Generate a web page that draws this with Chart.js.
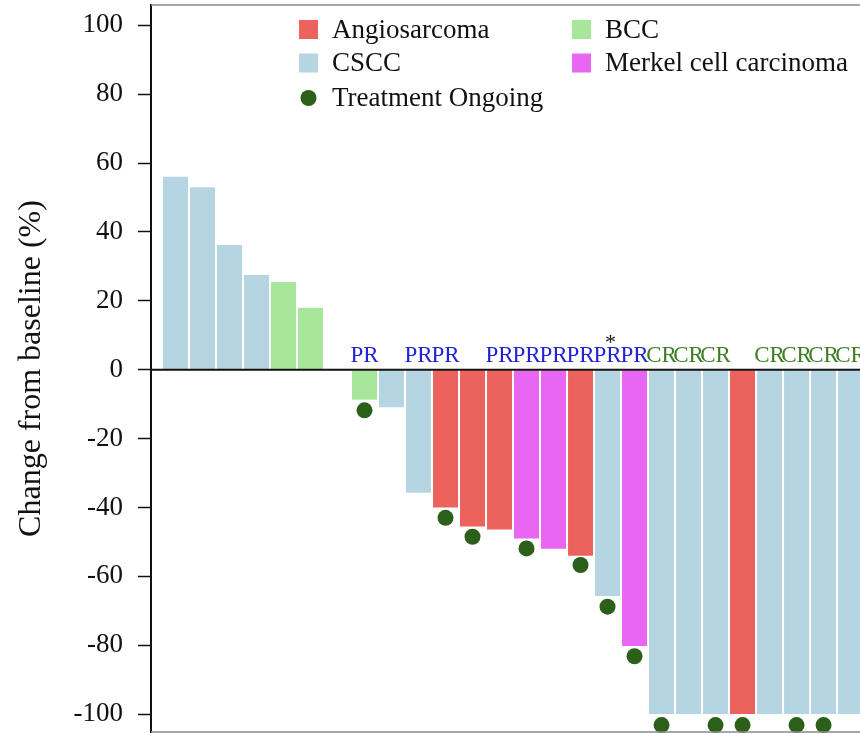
<!DOCTYPE html>
<html>
<head>
<meta charset="utf-8">
<script src="https://cdn.jsdelivr.net/npm/chart.js@4"></script>
<style>
  html, body { margin: 0; padding: 0; background: #fff; overflow: hidden; }
  #wrap { width: 860px; height: 734px; position: relative; }
</style>
</head>
<body>
<div id="wrap"><canvas id="waterfall"></canvas></div>
<script>
// best change from baseline per patient, left to right
const changePct = [56, 53, 36.2, 27.5, 25.5, 18, 0, -8.7, -10.9, -35.7, -40, -45.5, -46.4, -49, -52, -54,
  -65.7, -80.2, -100, -100, -100, -100, -100, -100, -100, -100];
const tumourType = ['CSCC', 'CSCC', 'CSCC', 'CSCC', 'BCC', 'BCC', 'CSCC', 'BCC', 'CSCC', 'CSCC',
  'Angiosarcoma', 'Angiosarcoma', 'Angiosarcoma', 'Merkel', 'Merkel', 'Angiosarcoma', 'CSCC', 'Merkel',
  'CSCC', 'CSCC', 'CSCC', 'Angiosarcoma', 'CSCC', 'CSCC', 'CSCC', 'CSCC'];
// treatment ongoing markers (null = none)
const ongoingDot = [null, null, null, null, null, null, null, -11.8, null, null, -43, -48.5, null, -51.9, null, -56.7,
  -68.8, -83.2, -103.2, null, -103.2, -103.2, null, -103.2, -103.2, null];
const response = ['', '', '', '', '', '', '', 'PR', '', 'PR', 'PR', '', 'PR', 'PR', 'PR', 'PR',
  'PR', 'PR', 'CR', 'CR', 'CR', '', 'CR', 'CR', 'CR', 'CR'];
const starred = [16];
const yTicks = [100, 80, 60, 40, 20, 0, -20, -40, -60, -80, -100];

const typeColour = {
  Angiosarcoma: '#ec635d',
  CSCC: '#b5d5e2',
  BCC: '#a8e79b',
  Merkel: '#e866f1'
};
const respColour = { PR: '#2323d6', CR: '#3f7e25' };
const dotColour = '#2c5f1a';
const serif = '"Liberation Serif", "DejaVu Serif", serif';

const legendItems = [
  { label: 'Angiosarcoma', color: typeColour.Angiosarcoma, x: 299, y: 29.5 },
  { label: 'BCC', color: typeColour.BCC, x: 572, y: 29.5 },
  { label: 'CSCC', color: typeColour.CSCC, x: 299, y: 63 },
  { label: 'Merkel cell carcinoma', color: typeColour.Merkel, x: 572, y: 63 },
  { label: 'Treatment Ongoing', color: dotColour, x: 299, y: 98, dot: true }
];

const overlay = {
  id: 'overlay',
  afterDatasetsDraw(chart) {
    const c = chart.ctx, a = chart.chartArea;
    const xs = chart.scales.x, ys = chart.scales.y;
    const y0 = ys.getPixelForValue(0);
    c.save();
    // frame top / bottom
    c.strokeStyle = '#8a8a8a';
    c.lineWidth = 1.5;
    c.beginPath();
    c.moveTo(a.left, a.top); c.lineTo(chart.width, a.top);
    c.moveTo(a.left, a.bottom); c.lineTo(chart.width, a.bottom);
    c.stroke();
    // zero line
    c.strokeStyle = '#111';
    c.lineWidth = 2;
    c.beginPath();
    c.moveTo(a.left, y0); c.lineTo(chart.width, y0);
    c.stroke();
    // response labels
    c.font = '23px ' + serif;
    c.textAlign = 'center';
    c.textBaseline = 'alphabetic';
    response.forEach((r, i) => {
      if (!r) return;
      c.fillStyle = respColour[r];
      c.fillText(r, xs.getPixelForValue(i), y0 - 8);
    });
    c.fillStyle = '#111';
    c.font = '22px ' + serif;
    starred.forEach(i => c.fillText('*', xs.getPixelForValue(i) + 3, y0 - 21));
    // legend
    c.font = '27px ' + serif;
    c.textAlign = 'left';
    c.textBaseline = 'middle';
    legendItems.forEach(it => {
      c.fillStyle = it.color;
      if (it.dot) {
        c.beginPath();
        c.arc(it.x + 9.5, it.y, 8, 0, Math.PI * 2);
        c.fill();
      } else {
        c.fillRect(it.x, it.y - 9.5, 19, 19);
      }
      c.fillStyle = '#111';
      c.fillText(it.label, it.x + 33, it.y + 1);
    });
    c.restore();
  }
};

new Chart(document.getElementById('waterfall'), {
  data: {
    datasets: [
      {
        type: 'scatter',
        order: 0,
        data: ongoingDot.map((v, i) => ({ x: i, y: v })),
        pointRadius: 8,
        pointHoverRadius: 8,
        pointBackgroundColor: dotColour,
        pointBorderWidth: 0,
        clip: false
      },
      {
        type: 'bar',
        order: 1,
        data: changePct.map((v, i) => ({ x: i, y: v })),
        backgroundColor: tumourType.map(t => typeColour[t]),
        borderWidth: 0,
        categoryPercentage: 1,
        barPercentage: 25 / 27
      }
    ]
  },
  options: {
    responsive: true,
    maintainAspectRatio: false,
    animation: false,
    layout: { autoPadding: false, padding: { top: 5, bottom: 2, left: 0, right: 0 } },
    plugins: { legend: { display: false }, tooltip: { enabled: false } },
    scales: {
      x: {
        type: 'linear',
        display: false,
        offset: false,
        min: -0.907,
        max: 25.35
      },
      y: {
        min: -105.2,
        max: 105.9,
        afterBuildTicks: s => { s.ticks = yTicks.map(v => ({ value: v })); },
        afterFit: s => { s.width = 151; s.paddingTop = 0; s.paddingBottom = 0; },
        border: { display: true, color: '#111', width: 2 },
        grid: {
          drawOnChartArea: false,
          color: 'transparent',
          tickColor: '#111',
          tickLength: 13,
          tickWidth: 1.5
        },
        ticks: {
          color: '#111',
          padding: 15,
          font: { family: serif, size: 27 },
          callback: v => String(v)
        },
        title: {
          display: true,
          text: 'Change from baseline (%)',
          color: '#111',
          font: { family: serif, size: 32 },
          padding: { top: 12, bottom: 0 }
        }
      }
    }
  },
  plugins: [overlay]
});
</script>
</body>
</html>
